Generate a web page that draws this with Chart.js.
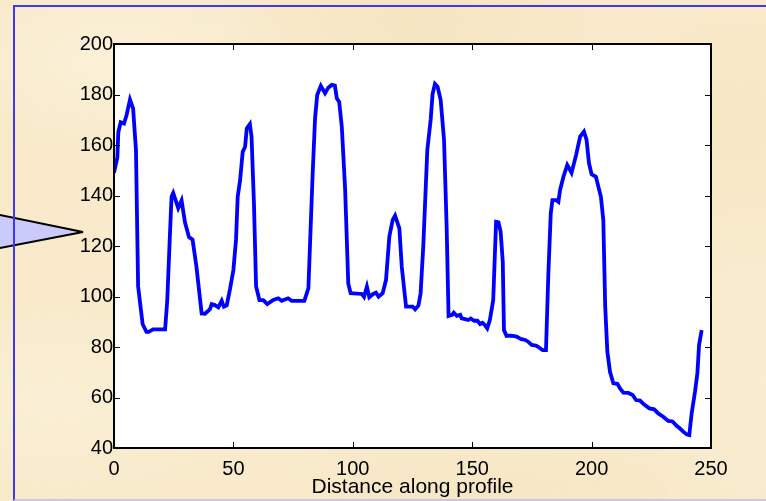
<!DOCTYPE html>
<html>
<head>
<meta charset="utf-8">
<script src="https://cdn.jsdelivr.net/npm/chart.js@4.4.1/dist/chart.umd.min.js"></script>
<style>
    html, body {
        margin: 0;
        padding: 0;
        width: 766px;
        height: 501px;
        overflow: hidden;
    }
    body {
        background-color: #f8eacb;
        background-image:
            radial-gradient(ellipse 180px 90px at 120px 60px, rgba(255, 248, 228, 0.5), rgba(255, 248, 228, 0) 100%),
            radial-gradient(ellipse 200px 120px at 420px 20px, rgba(240, 220, 176, 0.35), rgba(240, 220, 176, 0) 100%),
            radial-gradient(ellipse 160px 140px at 740px 120px, rgba(242, 224, 182, 0.35), rgba(242, 224, 182, 0) 100%),
            radial-gradient(ellipse 220px 100px at 60px 400px, rgba(252, 243, 222, 0.5), rgba(252, 243, 222, 0) 100%),
            radial-gradient(ellipse 240px 60px at 500px 490px, rgba(242, 224, 182, 0.35), rgba(242, 224, 182, 0) 100%),
            radial-gradient(ellipse 120px 200px at 745px 380px, rgba(250, 238, 212, 0.5), rgba(250, 238, 212, 0) 100%);
    }
    #wrap {
        position: absolute;
        left: 0;
        top: 0;
        width: 766px;
        height: 501px;
    }
    #callout {
        position: absolute;
        left: 0;
        top: 0;
    }
    #frame {
        position: absolute;
        left: 13px;
        top: 5px;
        width: 820px;
        height: 492px;
        border-left: 2px solid #3a3af0;
        border-top: 2px solid #3a3af0;
        border-bottom: 2px solid #c9c7e4;
        pointer-events: none;
    }
</style>
</head>
<body>
<svg id="callout" width="120" height="300">
    <polygon points="-10,213 83,232 -10,250" fill="#cacafb" stroke="#000" stroke-width="2" stroke-linejoin="miter"/>
</svg>
<div id="wrap"><canvas id="profileChart"></canvas></div>
<div id="frame"></div>

<script>
    // distance along profile (x) and elevation (y)
    const distance = [
        0, 1.4, 1.8, 2.8, 4.2, 5.3, 6.7, 8, 9.2, 10.1, 12, 13.6, 14.5, 16.4, 21.4, 22.3, 23.4, 24.1, 24.8,
        26.9, 28.3, 29.7, 31.4, 32.9, 34.5, 36.7, 38.1, 40.2, 40.9, 42.2, 43.7, 45.1, 46, 47.2, 48.6, 50,
        51.1, 51.8, 52.8, 53.9, 54.9, 55.6, 56.9, 57.6, 58.6, 59.5, 60.9, 62.5, 64.2, 66.7, 68.8, 70.2,
        72.9, 74.4, 79.7, 81.4, 83.2, 84.2, 85.1, 86.6, 88.4, 89.7, 91.2, 92.5, 93.3, 94.3, 95.4, 96.8,
        98.1, 99.1, 103.8, 104.7, 105.9, 106.9, 108.5, 109.7, 110.8, 112.5, 113.9, 115.3, 116.7, 117.7,
        119.5, 120.5, 122.3, 125.1, 126.1, 127.5, 128.4, 129.5, 131.2, 132.6, 133.4, 134.4, 135.5, 136.8,
        138.2, 139.3, 140.1, 141.6, 142.3, 143.6, 145, 145.6, 147, 148.4, 149.4, 150.8, 152.2, 153.3,
        154.3, 155.3, 156.3, 157.4, 158.8, 160, 161, 161.9, 162.8, 163.3, 164.4, 165.8, 166.9, 168.6,
        170.3, 172.2, 173.4, 174.9, 176.9, 178.4, 179.5, 180.9, 181.9, 182.9, 183.6, 185.1, 186.1, 186.8,
        188.2, 189.8, 191.6, 193.5, 195.2, 196.8, 197.9, 198.9, 200, 201.8, 203.9, 204.9, 205.7, 206.6,
        207.7, 209.1, 210.8, 211.9, 213.3, 215.4, 217.2, 218.6, 220.3, 221.9, 224.2, 226.2, 227.9, 230,
        232.1, 233.9, 235.6, 236.9, 238.4, 239.8, 240.9, 241.9, 243.3, 244.3, 245, 246.1
    ];
    const elevation = [
        149, 155, 165, 169, 168.5, 172, 178, 174.5, 158, 104, 89, 86, 86, 87, 87, 98.5, 124, 139.5, 141,
        135, 138, 129.5, 123.5, 122.5, 112, 93.3, 93.2, 95, 97, 96.6, 95.7, 98.3, 96, 96.5, 103, 110.5,
        122.5, 139.5, 146, 157.3, 159.3, 166.6, 168.3, 163.3, 137, 104, 98.6, 98.6, 97, 98.6, 99.3, 98.3,
        99.3, 98.3, 98.3, 103.2, 148.8, 170.6, 179.8, 183.4, 180.5, 182.7, 183.8, 183.5, 178.5, 177.1, 167.2, 142.2,
        105.2, 101.3, 101, 99.9, 103.9, 99.7, 101, 101.5, 99.9, 101.3, 106.5, 123.7, 130.3, 132,
        127, 111.8, 96, 96, 94.9, 96.5, 101.3, 119.7, 158, 169.9, 180.2, 184.2, 183.1, 177.8,
        162, 127.6, 92.3, 92.7, 93.6, 92.3, 92.7, 91.3, 91, 90.7, 91.3, 90.4, 90.4, 89.1,
        89.6, 88.7, 87.4, 90.7, 98.6, 129.6, 129.4, 125.7, 113.8, 86.7, 84.4, 84.5, 84.4, 84.1,
        83.2, 82.8, 82.1, 80.8, 80.5, 79.5, 78.8, 78.8, 109.2, 132.9, 138.2, 138.2, 137.5, 142.2,
        147.4, 152.1, 149, 156, 163.3, 165.3, 162, 152.8, 148.4, 147.4, 139.5, 130.3, 96, 78.1,
        70.2, 65.6, 65.4, 63.6, 61.9, 61.8, 61, 59, 58.8, 57.3, 55.7, 55.3, 53.7, 52.4,
        50.7, 50.5, 48.8, 47.8, 46.5, 45.4, 45.1, 53.7, 62.3, 69.6, 80.8, 86.7
    ];
    const xTicks = [0, 50, 100, 150, 200, 250];
    const yTicks = [40, 60, 80, 100, 120, 140, 160, 180, 200];
    const xTitle = "Distance along profile";

    const fontFamily = '"Liberation Sans", Arial, Helvetica, sans-serif';

    // white plot area + MATLAB style box with inward ticks on all sides
    const axesBox = {
        id: "axesBox",
        beforeDatasetsDraw(chart) {
            const {ctx, chartArea} = chart;
            ctx.save();
            ctx.fillStyle = "#ffffff";
            ctx.fillRect(chartArea.left, chartArea.top, chartArea.right - chartArea.left, chartArea.bottom - chartArea.top);
            ctx.restore();
        },
        afterDatasetsDraw(chart) {
            const {ctx, chartArea, scales} = chart;
            const len = 6;
            ctx.save();
            ctx.strokeStyle = "#000000";
            ctx.lineWidth = 1;
            ctx.beginPath();
            xTicks.forEach(v => {
                const px = Math.round(scales.x.getPixelForValue(v)) + 0.5;
                ctx.moveTo(px, chartArea.bottom);
                ctx.lineTo(px, chartArea.bottom - len);
                ctx.moveTo(px, chartArea.top);
                ctx.lineTo(px, chartArea.top + len);
            });
            yTicks.forEach(v => {
                const py = Math.round(scales.y.getPixelForValue(v)) + 0.5;
                ctx.moveTo(chartArea.left, py);
                ctx.lineTo(chartArea.left + len, py);
                ctx.moveTo(chartArea.right, py);
                ctx.lineTo(chartArea.right - len, py);
            });
            ctx.stroke();
            ctx.lineWidth = 2;
            ctx.strokeRect(chartArea.left, chartArea.top, chartArea.right - chartArea.left, chartArea.bottom - chartArea.top);
            ctx.restore();
        }
    };

    const ctx = document.getElementById("profileChart").getContext("2d");
    new Chart(ctx, {
        type: "line",
        data: {
            datasets: [{
                data: distance.map((d, i) => ({x: d, y: elevation[i]})),
                borderColor: "#0000ff",
                borderWidth: 3.8,
                pointRadius: 0,
                tension: 0,
                fill: false
            }]
        },
        options: {
            responsive: true,
            maintainAspectRatio: false,
            animation: false,
            layout: {
                padding: {left: 0, right: 55, top: 44, bottom: 0}
            },
            plugins: {
                legend: {display: false},
                tooltip: {enabled: false}
            },
            scales: {
                x: {
                    type: "linear",
                    min: 0,
                    max: 250,
                    afterBuildTicks: (scale) => {
                        scale.ticks = xTicks.map(v => ({value: v}));
                    },
                    afterFit: (scale) => {
                        scale.height = 53;
                    },
                    grid: {display: false, drawTicks: false},
                    border: {display: false},
                    ticks: {
                        color: "#000",
                        padding: 9,
                        maxRotation: 0,
                        font: {family: fontFamily, size: 20}
                    },
                    title: {
                        display: true,
                        text: xTitle,
                        color: "#000",
                        padding: {top: 0, bottom: 1},
                        font: {family: fontFamily, size: 21}
                    }
                },
                y: {
                    min: 40,
                    max: 200,
                    afterBuildTicks: (scale) => {
                        scale.ticks = yTicks.map(v => ({value: v}));
                    },
                    afterFit: (scale) => {
                        scale.width = 114;
                    },
                    grid: {display: false, drawTicks: false},
                    border: {display: false},
                    ticks: {
                        color: "#000",
                        padding: 1,
                        font: {family: fontFamily, size: 20}
                    }
                }
            }
        },
        plugins: [axesBox]
    });
</script>
</body>
</html>
